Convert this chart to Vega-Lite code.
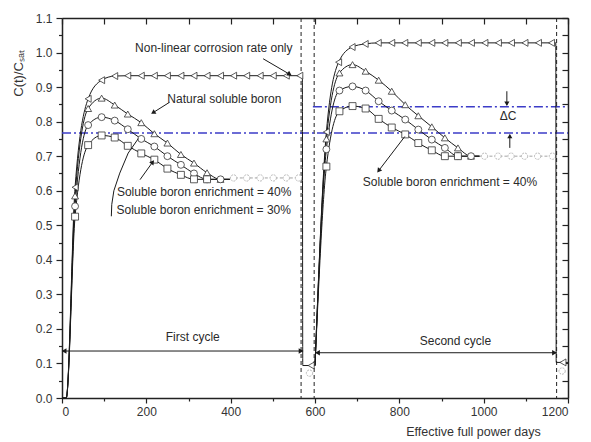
{
  "$schema": "https://vega.github.io/schema/vega-lite/v6.json",
  "width": 506,
  "height": 380,
  "autosize": "none",
  "padding": {"left": 62, "top": 18, "right": 23, "bottom": 44},
  "background": "white",
  "config": {
    "view": {"stroke": null},
    "font": "Liberation Sans",
    "axis": {
      "domainColor": "#222", "domainWidth": 1.5, "tickColor": "#222", "tickWidth": 1.2,
      "labelFont": "Liberation Sans", "labelFontSize": 12, "labelColor": "#333",
      "titleFont": "Liberation Sans", "titleFontWeight": "normal", "titleColor": "#333",
      "grid": false, "labelOverlap": false, "tickCount": 60
    }
  },
  "datasets": {
    "series": [
      {"s":"nl","c":1,"d":0,"v":0,"m":0},{"s":"nl","c":1,"d":10,"v":0,"m":0},{"s":"nl","c":1,"d":31,"v":0.61,"m":1},{"s":"nl","c":1,"d":62,"v":0.866,"m":1},{"s":"nl","c":1,"d":94,"v":0.92,"m":1},{"s":"nl","c":1,"d":125,"v":0.932,"m":1},{"s":"nl","c":1,"d":156,"v":0.933,"m":1},{"s":"nl","c":1,"d":188,"v":0.933,"m":1},{"s":"nl","c":1,"d":219,"v":0.933,"m":1},{"s":"nl","c":1,"d":250,"v":0.933,"m":1},{"s":"nl","c":1,"d":282,"v":0.933,"m":1},{"s":"nl","c":1,"d":313,"v":0.933,"m":1},{"s":"nl","c":1,"d":344,"v":0.933,"m":1},{"s":"nl","c":1,"d":376,"v":0.933,"m":1},{"s":"nl","c":1,"d":407,"v":0.933,"m":1},{"s":"nl","c":1,"d":438,"v":0.933,"m":1},{"s":"nl","c":1,"d":470,"v":0.933,"m":1},{"s":"nl","c":1,"d":501,"v":0.933,"m":1},{"s":"nl","c":1,"d":532,"v":0.933,"m":1},{"s":"nl","c":1,"d":564,"v":0.933,"m":1},{"s":"nl","c":1,"d":570,"v":0.933,"m":0},{"s":"nl","c":1,"d":571,"v":0.094,"m":0},{"s":"nl","c":1,"d":591,"v":0.094,"m":1},{"s":"nl","c":1,"d":600,"v":0.094,"m":0},
      {"s":"nl","c":2,"d":600,"v":0.094,"m":0},{"s":"nl","c":2,"d":627,"v":0.77,"m":1},{"s":"nl","c":2,"d":656,"v":0.972,"m":1},{"s":"nl","c":2,"d":688,"v":1.016,"m":1},{"s":"nl","c":2,"d":719,"v":1.025,"m":1},{"s":"nl","c":2,"d":750,"v":1.028,"m":1},{"s":"nl","c":2,"d":782,"v":1.028,"m":1},{"s":"nl","c":2,"d":813,"v":1.028,"m":1},{"s":"nl","c":2,"d":845,"v":1.028,"m":1},{"s":"nl","c":2,"d":877,"v":1.028,"m":1},{"s":"nl","c":2,"d":908,"v":1.028,"m":1},{"s":"nl","c":2,"d":940,"v":1.028,"m":1},{"s":"nl","c":2,"d":971,"v":1.028,"m":1},{"s":"nl","c":2,"d":1003,"v":1.028,"m":1},{"s":"nl","c":2,"d":1035,"v":1.028,"m":1},{"s":"nl","c":2,"d":1066,"v":1.028,"m":1},{"s":"nl","c":2,"d":1098,"v":1.028,"m":1},{"s":"nl","c":2,"d":1130,"v":1.028,"m":1},{"s":"nl","c":2,"d":1161,"v":1.028,"m":1},{"s":"nl","c":2,"d":1171,"v":1.028,"m":0},{"s":"nl","c":2,"d":1172,"v":0.103,"m":0},{"s":"nl","c":2,"d":1188,"v":0.103,"m":1},{"s":"nl","c":2,"d":1200,"v":0.103,"m":0},
      {"s":"nb","c":1,"d":0,"v":0,"m":0},{"s":"nb","c":1,"d":10,"v":0,"m":0},{"s":"nb","c":1,"d":31,"v":0.585,"m":1},{"s":"nb","c":1,"d":62,"v":0.838,"m":1},{"s":"nb","c":1,"d":94,"v":0.868,"m":1},{"s":"nb","c":1,"d":125,"v":0.848,"m":1},{"s":"nb","c":1,"d":156,"v":0.822,"m":1},{"s":"nb","c":1,"d":188,"v":0.797,"m":1},{"s":"nb","c":1,"d":219,"v":0.765,"m":1},{"s":"nb","c":1,"d":250,"v":0.738,"m":1},{"s":"nb","c":1,"d":282,"v":0.705,"m":1},{"s":"nb","c":1,"d":313,"v":0.68,"m":1},{"s":"nb","c":1,"d":344,"v":0.652,"m":1},{"s":"nb","c":1,"d":376,"v":0.633,"m":1},{"s":"nb","c":1,"d":398,"v":0.633,"m":0},
      {"s":"nb","c":2,"d":600,"v":0.094,"m":0},{"s":"nb","c":2,"d":627,"v":0.75,"m":1},{"s":"nb","c":2,"d":658,"v":0.941,"m":1},{"s":"nb","c":2,"d":689,"v":0.965,"m":1},{"s":"nb","c":2,"d":720,"v":0.946,"m":1},{"s":"nb","c":2,"d":751,"v":0.92,"m":1},{"s":"nb","c":2,"d":782,"v":0.888,"m":1},{"s":"nb","c":2,"d":814,"v":0.849,"m":1},{"s":"nb","c":2,"d":845,"v":0.817,"m":1},{"s":"nb","c":2,"d":877,"v":0.785,"m":1},{"s":"nb","c":2,"d":908,"v":0.753,"m":1},{"s":"nb","c":2,"d":939,"v":0.724,"m":1},{"s":"nb","c":2,"d":970,"v":0.70,"m":1},{"s":"nb","c":2,"d":990,"v":0.70,"m":0},
      {"s":"b30","c":1,"d":0,"v":0,"m":0},{"s":"b30","c":1,"d":10,"v":0,"m":0},{"s":"b30","c":1,"d":31,"v":0.555,"m":1},{"s":"b30","c":1,"d":62,"v":0.79,"m":1},{"s":"b30","c":1,"d":94,"v":0.813,"m":1},{"s":"b30","c":1,"d":125,"v":0.803,"m":1},{"s":"b30","c":1,"d":156,"v":0.778,"m":1},{"s":"b30","c":1,"d":188,"v":0.75,"m":1},{"s":"b30","c":1,"d":219,"v":0.728,"m":1},{"s":"b30","c":1,"d":250,"v":0.70,"m":1},{"s":"b30","c":1,"d":282,"v":0.675,"m":1},{"s":"b30","c":1,"d":313,"v":0.65,"m":1},{"s":"b30","c":1,"d":344,"v":0.633,"m":1},{"s":"b30","c":1,"d":376,"v":0.633,"m":1},{"s":"b30","c":1,"d":398,"v":0.633,"m":0},
      {"s":"b30","c":2,"d":600,"v":0.094,"m":0},{"s":"b30","c":2,"d":627,"v":0.72,"m":1},{"s":"b30","c":2,"d":658,"v":0.89,"m":1},{"s":"b30","c":2,"d":689,"v":0.902,"m":1},{"s":"b30","c":2,"d":720,"v":0.89,"m":1},{"s":"b30","c":2,"d":751,"v":0.859,"m":1},{"s":"b30","c":2,"d":782,"v":0.832,"m":1},{"s":"b30","c":2,"d":814,"v":0.806,"m":1},{"s":"b30","c":2,"d":845,"v":0.777,"m":1},{"s":"b30","c":2,"d":877,"v":0.748,"m":1},{"s":"b30","c":2,"d":908,"v":0.724,"m":1},{"s":"b30","c":2,"d":939,"v":0.70,"m":1},{"s":"b30","c":2,"d":970,"v":0.70,"m":1},{"s":"b30","c":2,"d":990,"v":0.70,"m":0},
      {"s":"b40","c":1,"d":0,"v":0,"m":0},{"s":"b40","c":1,"d":10,"v":0,"m":0},{"s":"b40","c":1,"d":31,"v":0.525,"m":1},{"s":"b40","c":1,"d":62,"v":0.732,"m":1},{"s":"b40","c":1,"d":94,"v":0.76,"m":1},{"s":"b40","c":1,"d":125,"v":0.754,"m":1},{"s":"b40","c":1,"d":156,"v":0.73,"m":1},{"s":"b40","c":1,"d":188,"v":0.708,"m":1},{"s":"b40","c":1,"d":219,"v":0.69,"m":1},{"s":"b40","c":1,"d":250,"v":0.664,"m":1},{"s":"b40","c":1,"d":282,"v":0.646,"m":1},{"s":"b40","c":1,"d":313,"v":0.633,"m":1},{"s":"b40","c":1,"d":344,"v":0.633,"m":1},{"s":"b40","c":1,"d":398,"v":0.633,"m":0},
      {"s":"b40","c":2,"d":600,"v":0.094,"m":0},{"s":"b40","c":2,"d":627,"v":0.67,"m":1},{"s":"b40","c":2,"d":658,"v":0.83,"m":1},{"s":"b40","c":2,"d":689,"v":0.845,"m":1},{"s":"b40","c":2,"d":720,"v":0.838,"m":1},{"s":"b40","c":2,"d":751,"v":0.808,"m":1},{"s":"b40","c":2,"d":782,"v":0.783,"m":1},{"s":"b40","c":2,"d":814,"v":0.763,"m":1},{"s":"b40","c":2,"d":845,"v":0.738,"m":1},{"s":"b40","c":2,"d":877,"v":0.717,"m":1},{"s":"b40","c":2,"d":908,"v":0.70,"m":1},{"s":"b40","c":2,"d":939,"v":0.70,"m":1},{"s":"b40","c":2,"d":990,"v":0.70,"m":0}
    ],
    "faint": [
      {"g":"f1","d":398,"v":0.637,"m":0},{"g":"f1","d":407,"v":0.637,"m":1},{"g":"f1","d":438,"v":0.637,"m":1},{"g":"f1","d":470,"v":0.637,"m":1},{"g":"f1","d":501,"v":0.637,"m":1},{"g":"f1","d":532,"v":0.637,"m":1},{"g":"f1","d":561,"v":0.637,"m":1},{"g":"f1","d":567,"v":0.637,"m":0},
      {"g":"f2","d":990,"v":0.70,"m":0},{"g":"f2","d":1002,"v":0.70,"m":1},{"g":"f2","d":1034,"v":0.70,"m":1},{"g":"f2","d":1065,"v":0.70,"m":1},{"g":"f2","d":1097,"v":0.70,"m":1},{"g":"f2","d":1128,"v":0.70,"m":1},{"g":"f2","d":1163,"v":0.70,"m":1},{"g":"f2","d":1171,"v":0.70,"m":0},
      {"g":"f3","d":587,"v":0.072,"m":1},{"g":"f4","d":1186,"v":0.078,"m":1}
    ],
    "vlines": [{"d":567},{"d":598},{"d":1173}],
    "hlines": [{"d":0,"d2":1200,"v":0.767},{"d":595,"d2":1200,"v":0.843}],
    "arrows": [
      {"id":"c1","d":2,"v":0.136,"d2":571,"v2":0.136},
      {"id":"c2","d":602,"v":0.131,"d2":1172,"v2":0.131},
      {"id":"nl","d":477,"v":0.982,"d2":540,"v2":0.937},
      {"id":"nb","d":255,"v":0.856,"d2":216,"v2":0.826},
      {"id":"b40a","d":185,"v":0.632,"d2":215,"v2":0.683},
      {"id":"b40b","d":813,"v":0.757,"d2":751,"v2":0.658},
      {"id":"dcd","d":1055,"v":0.888,"d2":1055,"v2":0.848},
      {"id":"dcu","d":1062,"v":0.724,"d2":1062,"v2":0.762},
      {"id":"h1","d":117,"v":0.526,"d2":118,"v2":0.56},
      {"id":"h2","d":118,"v":0.56,"d2":123,"v2":0.6},
      {"id":"h3","d":123,"v":0.6,"d2":137,"v2":0.651},
      {"id":"h4","d":137,"v":0.651,"d2":157,"v2":0.709},
      {"id":"h5","d":157,"v":0.709,"d2":181,"v2":0.751}
    ],
    "heads": [
      {"d":5,"v":0.136,"dir":"l"},{"d":567,"v":0.136,"dir":"r"},
      {"d":606,"v":0.131,"dir":"l"},{"d":1168,"v":0.131,"dir":"r"},
      {"d":1055,"v":0.852,"dir":"d"},{"d":1062,"v":0.758,"dir":"u"}
    ],
    "labels": [
      {"t":"Non-linear corrosion rate only","d":360,"v":1.014},
      {"t":"Natural soluble boron","d":385,"v":0.866},
      {"t":"Soluble boron enrichment = 40%","d":337,"v":0.595},
      {"t":"Soluble boron enrichment = 30%","d":336,"v":0.543},
      {"t":"Soluble boron enrichment = 40%","d":920,"v":0.624},
      {"t":"First cycle","d":310,"v":0.177},
      {"t":"Second cycle","d":933,"v":0.166},
      {"t":"ΔC","d":1058,"v":0.817}
    ]
  },
  "layer": [
    {
      "layer": [
        {
          "data": {"name": "vlines"},
          "mark": {"type": "rule", "color": "#222", "strokeWidth": 1, "strokeDash": [4, 3]},
          "encoding": {
            "x": {"field": "d", "type": "quantitative",
              "scale": {"domain": [0, 1200], "nice": false, "zero": false},
              "axis": {
                "title": "Effective full power days", "titleFontSize": 12.5,
                "titleX": 411, "titleY": 37, "titleAlign": "center", "titleBaseline": "alphabetic",
                "values": [0,100,200,300,400,500,600,700,800,900,1000,1100,1200],
                "tickCount": 60, "format": "d", "labelOverlap": false,
                "labelExpr": "datum.value % 200 === 0 ? datum.label : ''",
                "tickSize": {"condition": {"test": "datum.value % 200 === 0", "value": 5}, "value": 3},
                "labelPadding": 3
              }
            }
          }
        },
        {
          "data": {"name": "hlines"},
          "mark": {"type": "rule", "color": "#3c3cc8", "strokeWidth": 1.4, "strokeDash": [9, 3, 2, 3]},
          "encoding": {
            "x": {"field": "d", "type": "quantitative"},
            "x2": {"field": "d2"},
            "y": {"field": "v", "type": "quantitative",
              "scale": {"domain": [0, 1.1], "nice": false, "zero": false},
              "axis": {
                "title": "C(t)/Cₛₐₜ", "titleFontSize": 13,
                "titleAngle": -90, "titleX": -44, "titleY": 55, "titleAlign": "center", "titleBaseline": "middle",
                "values": [0,0.05,0.1,0.15,0.2,0.25,0.3,0.35,0.4,0.45,0.5,0.55,0.6,0.65,0.7,0.75,0.8,0.85,0.9,0.95,1.0,1.05,1.1],
                "tickCount": 60, "labelOverlap": false,
                "labelExpr": "round(datum.value*20) % 2 === 0 ? format(datum.value, '.1f') : ''",
                "tickSize": {"condition": {"test": "round(datum.value*20) % 2 === 0", "value": 6}, "value": 3.5},
                "labelPadding": 4
              }
            }
          }
        },
        {
          "data": {"name": "faint"},
          "mark": {"type": "line", "color": "#9a9a9a", "strokeWidth": 0.9, "strokeDash": [3, 2]},
          "encoding": {
            "x": {"field": "d", "type": "quantitative"},
            "y": {"field": "v", "type": "quantitative"},
            "detail": {"field": "g"}
          }
        },
        {
          "data": {"name": "faint"},
          "transform": [{"filter": "datum.m == 1"}],
          "mark": {"type": "point", "shape": "circle", "filled": true, "fill": "white", "stroke": "#b0b0b0", "strokeWidth": 0.9, "strokeDash": [2, 1], "size": 40, "opacity": 1},
          "encoding": {
            "x": {"field": "d", "type": "quantitative"},
            "y": {"field": "v", "type": "quantitative"}
          }
        },
        {
          "data": {"name": "series"},
          "mark": {"type": "line", "color": "#1a1a1a", "strokeWidth": 1, "interpolate": "monotone"},
          "encoding": {
            "x": {"field": "d", "type": "quantitative"},
            "y": {"field": "v", "type": "quantitative"},
            "detail": [{"field": "s"}, {"field": "c"}]
          }
        },
        {
          "data": {"name": "series"},
          "transform": [{"filter": "datum.m == 1"}],
          "mark": {"type": "point", "filled": true, "fill": "white", "stroke": "#333", "strokeWidth": 0.8, "size": 48, "opacity": 1},
          "encoding": {
            "x": {"field": "d", "type": "quantitative"},
            "y": {"field": "v", "type": "quantitative"},
            "shape": {"field": "s", "type": "nominal", "legend": null,
              "scale": {"domain": ["nl", "nb", "b30", "b40"], "range": ["triangle-left", "triangle-up", "circle", "square"]}}
          }
        },
        {
          "data": {"name": "arrows"},
          "mark": {"type": "rule", "color": "#1a1a1a", "strokeWidth": 1},
          "encoding": {
            "x": {"field": "d", "type": "quantitative"},
            "y": {"field": "v", "type": "quantitative"},
            "x2": {"field": "d2"},
            "y2": {"field": "v2"}
          }
        },
        {
          "data": {"name": "heads"},
          "transform": [{"filter": "datum.dir == 'l'"}],
          "mark": {"type": "point", "shape": "triangle-left", "filled": true, "color": "#1a1a1a", "size": 30, "opacity": 1},
          "encoding": {"x": {"field": "d", "type": "quantitative"}, "y": {"field": "v", "type": "quantitative"}}
        },
        {
          "data": {"name": "heads"},
          "transform": [{"filter": "datum.dir == 'r'"}],
          "mark": {"type": "point", "shape": "triangle-right", "filled": true, "color": "#1a1a1a", "size": 30, "opacity": 1},
          "encoding": {"x": {"field": "d", "type": "quantitative"}, "y": {"field": "v", "type": "quantitative"}}
        },
        {
          "data": {"name": "heads"},
          "transform": [{"filter": "datum.dir == 'u'"}],
          "mark": {"type": "point", "shape": "triangle-up", "filled": true, "color": "#1a1a1a", "size": 26, "opacity": 1},
          "encoding": {"x": {"field": "d", "type": "quantitative"}, "y": {"field": "v", "type": "quantitative"}}
        },
        {
          "data": {"name": "heads"},
          "transform": [{"filter": "datum.dir == 'd'"}],
          "mark": {"type": "point", "shape": "triangle-down", "filled": true, "color": "#1a1a1a", "size": 26, "opacity": 1},
          "encoding": {"x": {"field": "d", "type": "quantitative"}, "y": {"field": "v", "type": "quantitative"}}
        },
        {
          "data": {"name": "arrows"},
          "transform": [{"filter": "datum.id == 'nl'"}],
          "mark": {"type": "point", "shape": "triangle-up", "filled": true, "color": "#1a1a1a", "size": 28, "opacity": 1, "angle": 120},
          "encoding": {"x": {"field": "d2", "type": "quantitative"}, "y": {"field": "v2", "type": "quantitative"}}
        },
        {
          "data": {"name": "arrows"},
          "transform": [{"filter": "datum.id == 'nb'"}],
          "mark": {"type": "point", "shape": "triangle-up", "filled": true, "color": "#1a1a1a", "size": 28, "opacity": 1, "angle": 238},
          "encoding": {"x": {"field": "d2", "type": "quantitative"}, "y": {"field": "v2", "type": "quantitative"}}
        },
        {
          "data": {"name": "arrows"},
          "transform": [{"filter": "datum.id == 'b40a'"}],
          "mark": {"type": "point", "shape": "triangle-up", "filled": true, "color": "#1a1a1a", "size": 28, "opacity": 1, "angle": 36},
          "encoding": {"x": {"field": "d2", "type": "quantitative"}, "y": {"field": "v2", "type": "quantitative"}}
        },
        {
          "data": {"name": "arrows"},
          "transform": [{"filter": "datum.id == 'b40b'"}],
          "mark": {"type": "point", "shape": "triangle-up", "filled": true, "color": "#1a1a1a", "size": 28, "opacity": 1, "angle": 217},
          "encoding": {"x": {"field": "d2", "type": "quantitative"}, "y": {"field": "v2", "type": "quantitative"}}
        },
        {
          "data": {"name": "labels"},
          "mark": {"type": "text", "font": "Liberation Sans", "fontSize": 12, "color": "#2a2a2a", "align": "center", "baseline": "middle"},
          "encoding": {
            "x": {"field": "d", "type": "quantitative"},
            "y": {"field": "v", "type": "quantitative"},
            "text": {"field": "t"}
          }
        }
      ]
    },
    {
      "data": {"values": [{"d": 0, "v": 0}]},
      "mark": {"type": "point", "opacity": 0},
      "encoding": {
        "x": {"field": "d", "type": "quantitative",
          "axis": {"orient": "top", "title": null, "labels": false, "tickCount": 60,
            "values": [0,100,200,300,400,500,600,700,800,900,1000,1100,1200], "tickSize": -6}},
        "y": {"field": "v", "type": "quantitative",
          "axis": {"orient": "right", "title": null, "labels": false, "tickCount": 60,
            "values": [0,0.05,0.1,0.15,0.2,0.25,0.3,0.35,0.4,0.45,0.5,0.55,0.6,0.65,0.7,0.75,0.8,0.85,0.9,0.95,1.0,1.05,1.1], "tickSize": -6}}
      }
    }
  ],
  "resolve": {"axis": {"x": "independent", "y": "independent"}}
}
